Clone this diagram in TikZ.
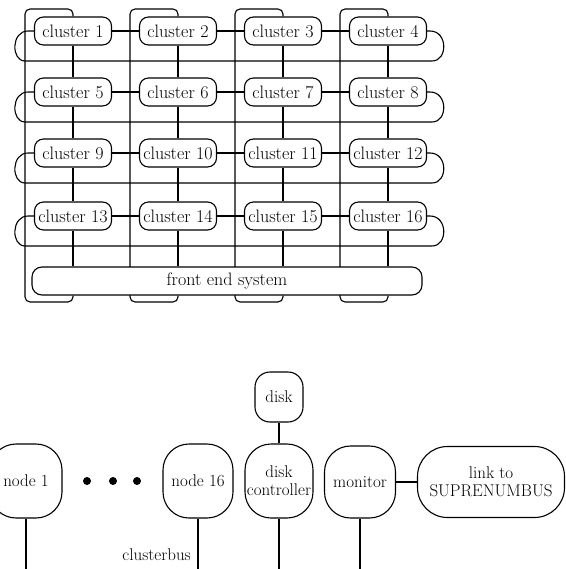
\documentclass[tikz,border=0pt]{standalone}
\usepackage{fontspec}
\usetikzlibrary{backgrounds}
\tikzset{
  ln/.style={line width=1.1pt},
  txt/.style={font=\fontsize{18}{18}\selectfont},
  btxt/.style={font=\fontsize{17}{18}\selectfont},
  cl/.style={ln, draw, fill=white, rounded corners=9pt, minimum width=77pt,
    minimum height=28pt, inner sep=0pt, txt},
  bb/.style={ln, draw, fill=white, inner sep=0pt, align=center, btxt},
}
\begin{document}
\begin{tikzpicture}[x=1pt,y=-1pt]
\useasboundingbox (0,0) rectangle (565,569);
% clusters
\foreach \r/\y in {0/31,1/92,2/153,3/216}{
  \foreach \c in {0,...,3}{
    \pgfmathtruncatemacro\n{4*\r+\c+1}
    \node[cl] (c\n) at ({73+105*\c},\y) {cluster \n};
  }
}
\node[cl, minimum width=390pt, rounded corners=10pt] (fe) at (227,281) {front end system};
\begin{scope}[on background layer]
% column wrap lines
\foreach \c in {0,...,3}{
  \pgfmathtruncatemacro\t{\c+1}
  \pgfmathtruncatemacro\b{\c+13}
  \pgfmathsetmacro\xw{25+105*\c}
  \draw[ln, rounded corners=5pt] (c\t.north) |- (\xw,9) -- (\xw,302) -| (fe.south -| c\b.south);
}
\end{scope}
% row wrap lines
\foreach \r/\y in {0/31,1/92,2/153,3/216}{
  \pgfmathtruncatemacro\a{4*\r+1}
  \pgfmathtruncatemacro\b{4*\r+4}
  \draw[ln] (c\a.west) -- (28,\y) .. controls (11,\y) and (11,\y+30) .. (25,\y+30)
     -- (432,\y+30) .. controls (448,\y+30) and (448,\y) .. (430,\y) -- (c\b.east);
}
% horizontal neighbours
\foreach \r in {0,...,3}{
  \foreach \c in {1,2,3}{
    \pgfmathtruncatemacro\a{4*\r+\c}
    \pgfmathtruncatemacro\b{4*\r+\c+1}
    \draw[ln] (c\a.east) -- (c\b.west);
  }
}
% vertical neighbours
\foreach \n in {1,...,12}{
  \pgfmathtruncatemacro\m{\n+4}
  \draw[ln] (c\n.south) -- (c\m.north);
}
\foreach \n in {13,...,16}{
  \draw[ln] (c\n.south) -- (fe.north -| c\n.south);
}
% bottom part
\coordinate (bot) at (0,572);
\node[bb, minimum width=72pt, minimum height=74pt, rounded corners=26pt] (n1) at (26,481) {node 1};
\fill (87,481) circle (4pt) (113,481) circle (4pt) (137,481) circle (4pt);
\node[bb, minimum width=70pt, minimum height=74pt, rounded corners=26pt] (n16) at (198,481) {node 16};
\node[bb, minimum width=68pt, minimum height=74pt, rounded corners=26pt] (dc) at (279,481) {disk\\controller};
\node[bb, minimum width=48pt, minimum height=50pt, rounded corners=15pt] (dk) at (279,397) {disk};
\node[bb, minimum width=71pt, minimum height=72pt, rounded corners=26pt] (mon) at (360,482) {monitor};
\node[bb, minimum width=147pt, minimum height=71pt, rounded corners=30pt] (lk) at (491,482) {link to\\SUPRENUMBUS};
\draw[ln] (dk.south) -- (dc.north);
\draw[ln] (mon.east) -- (lk.west);
\foreach \k in {n1,n16,dc,mon}{
  \draw[ln] (\k.south) -- (\k.south |- bot);
}
\node[btxt, anchor=east, inner sep=0pt] (cb) at (191,555) {clusterbus};
\end{tikzpicture}
\end{document}
